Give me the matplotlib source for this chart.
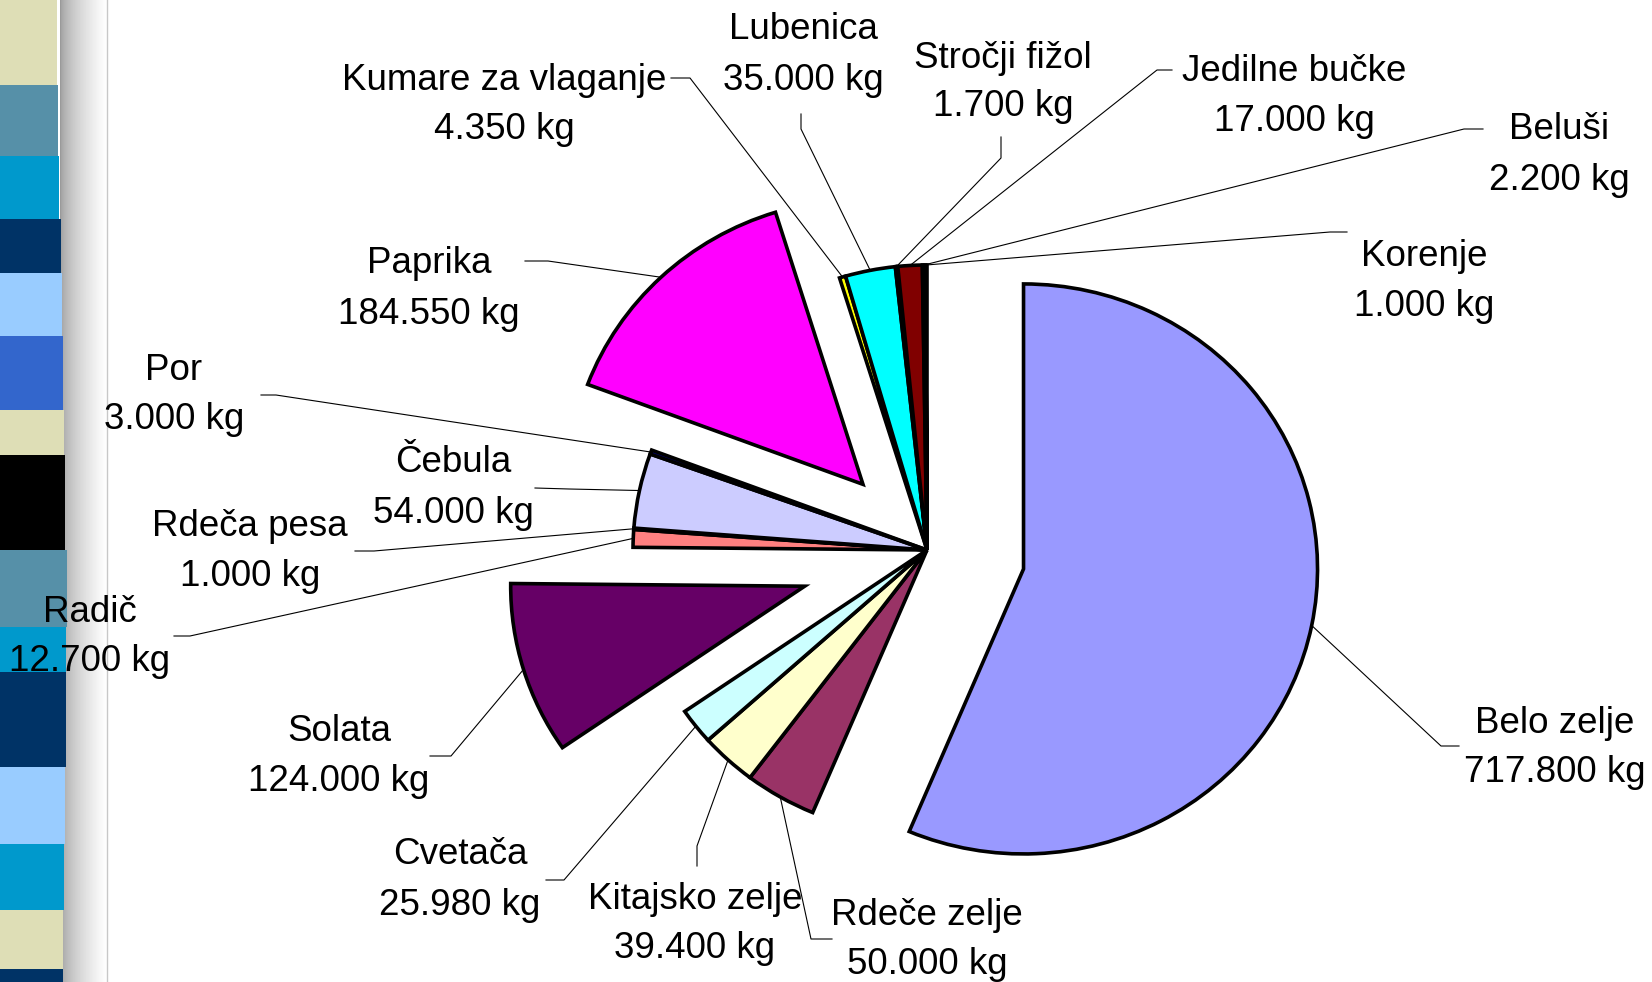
import matplotlib
matplotlib.use("Agg")
import matplotlib.pyplot as plt
from matplotlib.patches import Rectangle
import numpy as np

# data
crops = ["Belo zelje", "Rdeče zelje", "Kitajsko zelje", "Cvetača", "Solata",
         "Radič", "Rdeča pesa", "Čebula", "Por", "Paprika",
         "Kumare za vlaganje", "Lubenica", "Stročji fižol", "Jedilne bučke",
         "Beluši", "Korenje"]
kg = [717800, 50000, 39400, 25980, 124000,
      12700, 1000, 54000, 3000, 184550,
      4350, 35000, 1700, 17000,
      2200, 1000]
colors = ["#9999FF", "#993366", "#FFFFCC", "#CCFFFF", "#660066",
          "#FF8080", "#0066CC", "#CCCCFF", "#000080", "#FF00FF",
          "#FFFF00", "#00FFFF", "#800080", "#800000",
          "#008080", "#0000FF"]
explode = [0.335, 0, 0, 0, 0.435, 0, 0, 0, 0, 0.317, 0, 0, 0, 0, 0, 0]

# label layout in picture pixels: text centre x, first line y, second line y,
# leader anchor at the label, leader elbow
label_pos = {
    "Kumare za vlaganje": (504, 77, 126, (671, 78), (690, 78)),
    "Lubenica": (803, 26, 77, (801, 114), (801, 129)),
    "Stročji fižol": (1003, 55, 103, (1001, 137), (1001, 158)),
    "Jedilne bučke": (1294, 68, 118, (1172, 70), (1157, 70)),
    "Beluši": (1559, 126, 177, (1483, 129), (1464, 129)),
    "Korenje": (1424, 253, 303, (1347, 232), (1330, 232)),
    "Paprika": (429, 260, 311, (525, 261), (548, 261)),
    "Por": (174, 367, 416, (261, 395), (276, 395)),
    "Čebula": (453, 459, 510, (535, 488), (569, 489)),
    "Rdeča pesa": (250, 523, 573, (355, 551), (374, 551)),
    "Radič": (90, 609, 658, (174, 636), (190, 636)),
    "Solata": (339, 728, 778, (430, 756), (451, 756)),
    "Cvetača": (460, 851, 902, (546, 880), (564, 880)),
    "Kitajsko zelje": (695, 896, 945, (697, 866), (697, 846)),
    "Rdeče zelje": (927, 912, 961, (832, 939), (811, 939)),
    "Belo zelje": (1555, 720, 769, (1459, 746), (1441, 746)),
}

# decorative stripe band on the left
stripe_edges = [0, 85, 156, 219, 273, 336, 410, 455, 550, 627, 672, 767, 844, 910, 969, 982]
stripe_colors = ["#DEDEB6", "#5690A8", "#0099CC", "#003366", "#99CCFF",
                 "#3366CC", "#DEDEB6", "#000000", "#5690A8", "#0099CC",
                 "#003366", "#99CCFF", "#0099CC", "#DEDEB6", "#003366"]

W, H = 1652, 982
CX, CY, RX, RY = 927, 550, 294, 285


def to_data(px, py):
    return (px - CX) / RX, (CY - py) / RY


def fmt(v):
    return f"{v:,}".replace(",", ".") + " kg"


fig = plt.figure(figsize=(W / 100, H / 100), dpi=100)

bg = fig.add_axes([0, 0, 1, 1], zorder=0)
bg.set_xlim(0, W)
bg.set_ylim(H, 0)
bg.axis("off")
for i, c in enumerate(stripe_colors):
    y0, y1 = stripe_edges[i], stripe_edges[i + 1]
    right = np.interp((y0 + y1) / 2, [0, 600, 982], [56, 67, 63])
    bg.add_patch(Rectangle((0, y0), right, y1 - y0, color=c, lw=0))
grad = np.linspace(0, 1, 60) ** 0.6
grad = 0.6 + 0.4 * grad
bg.imshow(grad[np.newaxis, :], extent=(60, 106, H, 0), cmap="gray",
          vmin=0, vmax=1, aspect="auto", zorder=0.5)
bg.plot([107, 107], [0, H], color="#C8C8C8", lw=1)
bg.set_xlim(0, W)
bg.set_ylim(H, 0)

ax = fig.add_axes([0, 0, 1, 1], zorder=1)
wedges, _ = ax.pie(kg, colors=colors, explode=explode, startangle=90,
                   counterclock=False,
                   wedgeprops=dict(edgecolor="black", linewidth=2.6))
ax.set_aspect("auto")
ax.set_xlim(-CX / RX, (W - CX) / RX)
ax.set_ylim(-(H - CY) / RY, CY / RY)
ax.axis("off")

for name, v, w in zip(crops, kg, wedges):
    cx, y1, y2, anchor, elbow = label_pos[name]
    mid = np.deg2rad((w.theta1 + w.theta2) / 2)
    sx = w.center[0] + w.r * np.cos(mid)
    sy = w.center[1] + w.r * np.sin(mid)
    ex, ey = to_data(*elbow)
    axx, axy = to_data(*anchor)
    ax.plot([sx, ex, axx], [sy, ey, axy], color="black", lw=0.8, zorder=0.5)
    tx, ty = to_data(cx, y1 + 13)
    ax.text(tx, ty, name, ha="center", va="baseline", fontsize=26.5,
            family="Liberation Sans")
    tx, ty = to_data(cx, y2 + 13)
    ax.text(tx, ty, fmt(v), ha="center", va="baseline", fontsize=26.5,
            family="Liberation Sans")

fig.savefig("out.png", dpi=100)
